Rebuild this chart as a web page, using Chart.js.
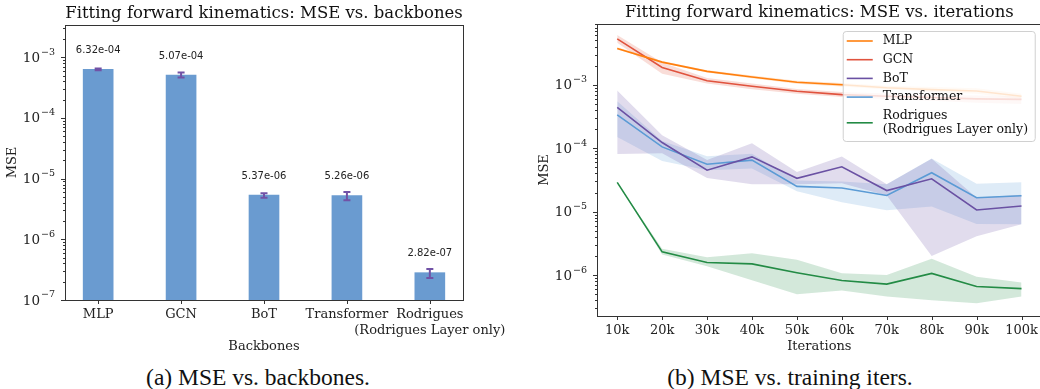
<!DOCTYPE html>
<html lang="en">
<head>
<meta charset="UTF-8">
<title>MSE</title>
<script src="https://cdn.jsdelivr.net/npm/chart.js"></script>
<style>
  body { margin: 0; width: 1040px; height: 389px; overflow: hidden; background: #fff; position: relative; }
  .painel { position: absolute; top: 0; }
  .legenda { position: absolute; top: 364px; line-height: 26px; font-family: "Liberation Serif", serif; font-size: 23.5px; color: #111; text-align: center; white-space: nowrap; }
</style>
</head>
<body>
<div class="painel" style="left:0"><canvas id="graficoBarras" width="520" height="360"></canvas></div>
<div class="painel" style="left:520px"><canvas id="graficoLinhas" width="525" height="360"></canvas></div>
<div class="legenda" style="left:0;width:516px">(a) MSE vs. backbones.</div>
<div class="legenda" style="left:530px;width:520px">(b) MSE vs. training iters.</div>

<script>
  // dados grafico (a)
  const backbones = ['MLP', 'GCN', 'BoT', 'Transformer', ['Rodrigues', '(Rodrigues Layer only)']]
  const mseMedia = [6.32e-4, 5.07e-4, 5.37e-6, 5.26e-6, 2.82e-7]
  const mseMin = [6.08e-4, 4.65e-4, 4.85e-6, 4.4e-6, 2.3e-7]
  const mseMax = [6.55e-4, 5.6e-4, 5.75e-6, 6.0e-6, 3.25e-7]
  const rotulosValor = ['6.32e-04', '5.07e-04', '5.37e-06', '5.26e-06', '2.82e-07']
  const expoentesA = [-7, -6, -5, -4, -3]

  // dados grafico (b)
  const iteracoes = [10, 20, 30, 40, 50, 60, 70, 80, 90, 100]
  const mlp = [3.75e-3, 2.28e-3, 1.63e-3, 1.33e-3, 1.1e-3, 1.0e-3, 9.0e-4, 8.4e-4, 8.0e-4, 6.6e-4]
  const mlpMin = [3.6e-3, 2.2e-3, 1.56e-3, 1.27e-3, 1.04e-3, 9.4e-4, 8.4e-4, 7.7e-4, 7.2e-4, 6.0e-4]
  const mlpMax = [3.9e-3, 2.38e-3, 1.7e-3, 1.4e-3, 1.16e-3, 1.07e-3, 9.7e-4, 9.2e-4, 8.8e-4, 7.2e-4]
  const gcn = [5.3e-3, 1.88e-3, 1.16e-3, 9.5e-4, 7.9e-4, 7.0e-4, 6.6e-4, 6.3e-4, 6.0e-4, 5.9e-4]
  const gcnMin = [4.6e-3, 1.5e-3, 1.05e-3, 8.5e-4, 7.2e-4, 6.4e-4, 6.0e-4, 5.6e-4, 5.2e-4, 5.0e-4]
  const gcnMax = [6.1e-3, 2.25e-3, 1.28e-3, 1.05e-3, 8.6e-4, 7.7e-4, 7.3e-4, 7.0e-4, 6.8e-4, 6.6e-4]
  const bot = [4.4e-4, 1.23e-4, 4.5e-5, 7.3e-5, 3.35e-5, 5.1e-5, 2.15e-5, 3.3e-5, 1.06e-5, 1.23e-5]
  const botMin = [8.1e-5, 8.3e-5, 3.4e-5, 2.7e-5, 2.7e-5, 2.8e-5, 1.8e-5, 2.0e-6, 4.1e-6, 6.3e-6]
  const botMax = [8.1e-4, 1.6e-4, 6.5e-5, 1.2e-4, 4.2e-5, 7.4e-5, 2.7e-5, 6.8e-5, 1.65e-5, 1.85e-5]
  const transformer = [3.35e-4, 1.05e-4, 5.6e-5, 6.5e-5, 2.5e-5, 2.36e-5, 1.8e-5, 4.1e-5, 1.66e-5, 1.78e-5]
  const transformerMin = [1.5e-4, 6.3e-5, 4.5e-5, 4.8e-5, 2.1e-5, 1.4e-5, 1.05e-5, 1.2e-5, 6.4e-6, 6.3e-6]
  const transformerMax = [5.5e-4, 1.3e-4, 7.5e-5, 8.2e-5, 3.1e-5, 3.0e-5, 2.7e-5, 6.9e-5, 2.75e-5, 2.9e-5]
  const rodrigues = [2.9e-5, 2.32e-6, 1.58e-6, 1.5e-6, 1.09e-6, 8.2e-7, 7.2e-7, 1.06e-6, 6.6e-7, 6.1e-7]
  const rodriguesMin = [2.9e-5, 2.1e-6, 1.37e-6, 8.3e-7, 5.0e-7, 5.7e-7, 4.6e-7, 4.0e-7, 3.6e-7, 4.6e-7]
  const rodriguesMax = [2.9e-5, 2.6e-6, 1.9e-6, 2.2e-6, 1.74e-6, 1.07e-6, 1.0e-6, 1.8e-6, 9.4e-7, 7.6e-7]
  const expoentesB = [-6, -5, -4, -3]

  const serifa = 'DejaVu Serif'
  const corTexto = '#222'

  // ticks menores/maiores do eixo log, rotulos 10^n, moldura e textos
  function plugMoldura(cfg) {
    return {
      id: 'moldura',
      afterDraw(chart) {
        const ctx = chart.ctx
        const a = chart.chartArea
        const y = chart.scales.y
        ctx.save()
        ctx.strokeStyle = '#333'
        ctx.lineWidth = 1
        const e0 = Math.floor(Math.log10(y.min)), e1 = Math.ceil(Math.log10(y.max))
        for (let e = e0; e <= e1; e++) {
          for (let m = 1; m <= 9; m++) {
            const v = m * Math.pow(10, e)
            if (v < y.min || v > y.max) continue
            const py = Math.round(y.getPixelForValue(v)) + 0.5
            ctx.beginPath()
            ctx.moveTo(a.left, py)
            ctx.lineTo(a.left - (m == 1 ? 4 : 2), py)
            ctx.stroke()
          }
        }
        const x = chart.scales.x
        x.ticks.forEach(t => {
          const px = Math.round(x.getPixelForValue(t.value)) + 0.5
          ctx.beginPath()
          ctx.moveTo(px, a.bottom)
          ctx.lineTo(px, a.bottom + 4)
          ctx.stroke()
        })
        ctx.strokeRect(Math.round(a.left) + 0.5, Math.round(a.top) + 0.5, Math.round(a.right - a.left), Math.round(a.bottom - a.top))

        // rotulos do eixo y: 10 com expoente
        ctx.fillStyle = corTexto
        ctx.textBaseline = 'middle'
        ctx.textAlign = 'right'
        cfg.expoentes.forEach(e => {
          const py = y.getPixelForValue(Math.pow(10, e))
          const exp = '\u2212' + String(-e)
          ctx.font = '9.5px "' + serifa + '"'
          const w = ctx.measureText(exp).width
          const dir = a.left - 10
          ctx.fillText(exp, dir, py - 5)
          ctx.font = '13.5px "' + serifa + '"'
          ctx.fillText('10', dir - w - 1, py + 1)
        })

        ctx.fillStyle = '#111'
        ctx.textAlign = 'center'
        ctx.textBaseline = 'middle'
        ctx.font = '16.5px "' + serifa + '"'
        ctx.fillText(cfg.titulo, (a.left + a.right) / 2, cfg.tituloY)
        ctx.font = '13px "' + serifa + '"'
        ctx.fillStyle = corTexto
        ctx.fillText(cfg.tituloX, (a.left + a.right) / 2, cfg.tituloXY)
        ctx.translate(cfg.tituloYX, (a.top + a.bottom) / 2)
        ctx.rotate(-Math.PI / 2)
        ctx.fillText('MSE', 0, 0)
        ctx.restore()
      }
    }
  }

  function eixoLog(min, max, largura) {
    return {
      type: 'logarithmic',
      min: min,
      max: max,
      grid: { display: false, drawTicks: false },
      border: { display: false },
      afterFit: s => { s.width = largura },
      ticks: { display: false }
    }
  }

  // grafico (a): barras com erro
  const plugErro = {
    id: 'erro',
    afterDatasetsDraw(chart) {
      const ctx = chart.ctx
      const x = chart.scales.x, y = chart.scales.y
      ctx.save()
      ctx.strokeStyle = '#7152a6'
      ctx.lineWidth = 2
      for (let i = 0; i < mseMedia.length; i++) {
        const px = x.getPixelForValue(i)
        const ya = y.getPixelForValue(mseMax[i]), yb = y.getPixelForValue(mseMin[i])
        ctx.beginPath()
        ctx.moveTo(px, ya); ctx.lineTo(px, yb)
        ctx.moveTo(px - 3.5, ya); ctx.lineTo(px + 3.5, ya)
        ctx.moveTo(px - 3.5, yb); ctx.lineTo(px + 3.5, yb)
        ctx.stroke()
        ctx.fillStyle = corTexto
        ctx.font = '10px "DejaVu Sans"'
        ctx.textAlign = 'center'
        ctx.textBaseline = 'middle'
        ctx.fillText(rotulosValor[i], px, y.getPixelForValue(mseMedia[i]) - 19)
      }
      ctx.restore()
    }
  }

  new Chart(document.getElementById('graficoBarras'), {
    type: 'bar',
    data: {
      datasets: [{
        data: mseMedia.map((v, i) => ({ x: i, y: v })),
        backgroundColor: '#6a9bd0',
        barThickness: 30
      }]
    },
    options: {
      responsive: false,
      animation: false,
      layout: { padding: { top: 25, right: 57, left: 0, bottom: 0 } },
      plugins: { legend: { display: false }, tooltip: { enabled: false } },
      scales: {
        x: {
          type: 'linear',
          offset: false,
          min: -0.4,
          max: 4.4,
          grid: { display: false, drawTicks: false, offset: false },
          border: { display: false },
          afterBuildTicks: s => { s.ticks = backbones.map((b, i) => ({ value: i })) },
          afterFit: s => { s.height = 60 },
          ticks: {
            padding: 7,
            maxRotation: 0,
            autoSkip: false,
            color: corTexto,
            font: { family: serifa, size: 13 },
            callback: v => backbones[v]
          }
        },
        y: eixoLog(1e-7, 3.4e-3, 65)
      }
    },
    plugins: [plugErro, plugMoldura({ titulo: 'Fitting forward kinematics: MSE vs. backbones', tituloY: 14, tituloX: 'Backbones', tituloXY: 347, tituloYX: 13, expoentes: expoentesA })]
  })

  // grafico (b): linhas com faixa
  const series = [
    { nome: ['MLP'], media: mlp, min: mlpMin, max: mlpMax, cor: '#ff7f0e', faixa: 'rgba(255,127,14,0.2)' },
    { nome: ['GCN'], media: gcn, min: gcnMin, max: gcnMax, cor: '#e0533e', faixa: 'rgba(224,83,62,0.2)' },
    { nome: ['BoT'], media: bot, min: botMin, max: botMax, cor: '#6a51a3', faixa: 'rgba(106,81,163,0.2)' },
    { nome: ['Transformer'], media: transformer, min: transformerMin, max: transformerMax, cor: '#5b9bd5', faixa: 'rgba(91,155,213,0.2)' },
    { nome: ['Rodrigues', '(Rodrigues Layer only)'], media: rodrigues, min: rodriguesMin, max: rodriguesMax, cor: '#238b45', faixa: 'rgba(35,139,69,0.2)' }
  ]

  const conjuntos = []
  series.forEach(s => {
    conjuntos.push({ data: iteracoes.map((x, i) => ({ x: x, y: s.max[i] })), borderWidth: 0, pointRadius: 0, fill: false, order: 1 })
    conjuntos.push({ data: iteracoes.map((x, i) => ({ x: x, y: s.min[i] })), borderWidth: 0, pointRadius: 0, fill: '-1', backgroundColor: s.faixa, order: 1 })
    conjuntos.push({ data: iteracoes.map((x, i) => ({ x: x, y: s.media[i] })), borderColor: s.cor, borderWidth: 1.6, pointRadius: 0, fill: false, order: 0 })
  })

  const plugLegenda = {
    id: 'legendaManual',
    afterDraw(chart) {
      const ctx = chart.ctx
      const a = chart.chartArea
      const dir = a.right - 7, topo = a.top + 7
      const esq = dir - 192
      ctx.save()
      ctx.fillStyle = 'rgba(255,255,255,0.8)'
      ctx.strokeStyle = '#d0d0d0'
      ctx.lineWidth = 1
      ctx.beginPath()
      ctx.roundRect(esq + 0.5, topo + 0.5, 192, 110, 3)
      ctx.fill()
      ctx.stroke()
      ctx.font = '12.5px "' + serifa + '"'
      ctx.textBaseline = 'middle'
      ctx.textAlign = 'left'
      let y = topo + 10
      series.forEach(s => {
        const meio = y + (s.nome.length - 1) * 14 / 2
        ctx.strokeStyle = s.cor
        ctx.lineWidth = 1.6
        ctx.beginPath()
        ctx.moveTo(esq + 4, meio)
        ctx.lineTo(esq + 30, meio)
        ctx.stroke()
        ctx.fillStyle = '#111'
        s.nome.forEach((linha, k) => ctx.fillText(linha, esq + 40, y + k * 14))
        y += 18.7 + (s.nome.length - 1) * 14
      })
      ctx.restore()
    }
  }

  new Chart(document.getElementById('graficoLinhas'), {
    type: 'line',
    data: { datasets: conjuntos },
    options: {
      responsive: false,
      animation: false,
      layout: { padding: { top: 24, right: 3, left: 0, bottom: 0 } },
      plugins: { legend: { display: false }, tooltip: { enabled: false }, filler: { propagate: false } },
      scales: {
        x: {
          type: 'linear',
          min: 5.5,
          max: 104.5,
          grid: { display: false, drawTicks: false },
          border: { display: false },
          afterBuildTicks: s => { s.ticks = iteracoes.map(v => ({ value: v })) },
          afterFit: s => { s.height = 44 },
          ticks: {
            padding: 7,
            maxRotation: 0,
            autoSkip: false,
            color: corTexto,
            font: { family: serifa, size: 13 },
            callback: v => v + 'k'
          }
        },
        y: eixoLog(2.26e-7, 9.1e-3, 77)
      }
    },
    plugins: [plugLegenda, plugMoldura({ titulo: 'Fitting forward kinematics: MSE vs. iterations', tituloY: 13, tituloX: 'Iterations', tituloXY: 347, tituloYX: 25, expoentes: expoentesB })]
  })
</script>
</body>
</html>
